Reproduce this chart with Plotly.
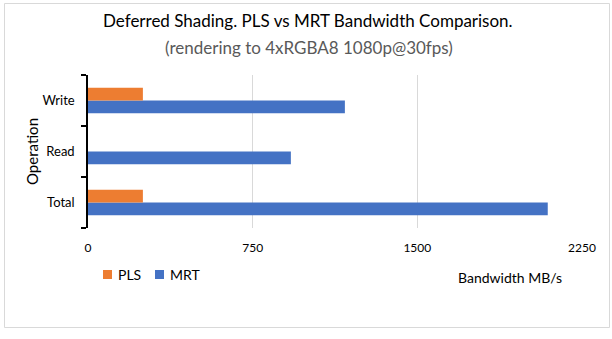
import plotly.graph_objects as go

# Bandwidth per operation (MB/s)
operations = ["Total", "Read", "Write"]
pls_bandwidth = [250, 0, 250]
mrt_bandwidth = [2094, 924, 1170]
x_ticks = [0, 750, 1500, 2250]

PLS_COLOR = "#ED7D31"
MRT_COLOR = "#4472C4"
FONT = "Lato, Carlito, Calibri, sans-serif"

fig = go.Figure()
# MRT first so it sits below PLS within each group
fig.add_trace(go.Bar(
    y=operations, x=mrt_bandwidth, name="MRT", orientation="h",
    marker=dict(color=MRT_COLOR, line=dict(width=0)), showlegend=False,
))
fig.add_trace(go.Bar(
    y=operations, x=pls_bandwidth, name="PLS", orientation="h",
    marker=dict(color=PLS_COLOR, line=dict(width=0)), showlegend=False,
))

L, R, T, B = 88, 30, 75, 111
W, H = 612, 339
pw, ph = W - L - R, H - T - B


def px(x):
    return (x - L) / pw


def py(y):
    return (H - B - y) / ph


def text(label, x, y, size, color="#000000", anchor="center", angle=0):
    return dict(text=label, textangle=angle, xref="paper", yref="paper",
                x=px(x), y=py(y), xanchor=anchor, yanchor="middle",
                showarrow=False, font=dict(size=size, color=color, family=FONT))


def swatch(x0, y0, size, color):
    return dict(type="rect", xref="paper", yref="paper",
                x0=px(x0), x1=px(x0 + size), y0=py(y0 + size), y1=py(y0),
                line=dict(width=0), fillcolor=color)


fig.update_layout(
    width=W, height=H,
    margin=dict(l=L, r=R, t=T, b=B),
    paper_bgcolor="white", plot_bgcolor="white",
    barmode="group", bargap=0.5, bargroupgap=0,
    font=dict(family=FONT, size=12, color="#000000"),
    showlegend=False,
    xaxis=dict(
        range=[0, 2250], tickvals=x_ticks, ticktext=[str(v) for v in x_ticks],
        showgrid=True, gridcolor="#d9d9d9", gridwidth=1,
        zeroline=False, showline=False, ticks="",
        ticklabelstandoff=11, tickfont=dict(size=12, color="#000000"),
        fixedrange=True,
    ),
    yaxis=dict(
        categoryorder="array", categoryarray=operations,
        showline=True, linecolor="#000000", linewidth=1.5,
        ticks="outside", ticklen=5, tickcolor="#000000", tickwidth=1.5,
        tickson="boundaries", showgrid=False, zeroline=False,
        tickfont=dict(size=13, color="#000000"), ticklabelstandoff=9,
        fixedrange=True,
    ),
    annotations=[
        text("Deferred Shading. PLS vs MRT Bandwidth Comparison.", 308, 21, 17),
        text("(rendering to 4xRGBA8 1080p@30fps)", 309, 47, 17, "#595959"),
        text("Operation", 32, 152, 15, angle=-90),
        text("Bandwidth MB/s", 510, 277, 14),
        text("PLS", 116, 274, 14, anchor="left"),
        text("MRT", 168, 274, 14, anchor="left"),
    ],
    shapes=[
        dict(type="rect", xref="paper", yref="paper",
             x0=px(4.5), x1=px(609.5), y0=py(327.5), y1=py(3.5),
             line=dict(color="#d9d9d9", width=1), fillcolor="rgba(0,0,0,0)",
             layer="below"),
        swatch(103, 270, 9, PLS_COLOR),
        swatch(155, 270, 9, MRT_COLOR),
    ],
)

fig.write_html("out.html")
